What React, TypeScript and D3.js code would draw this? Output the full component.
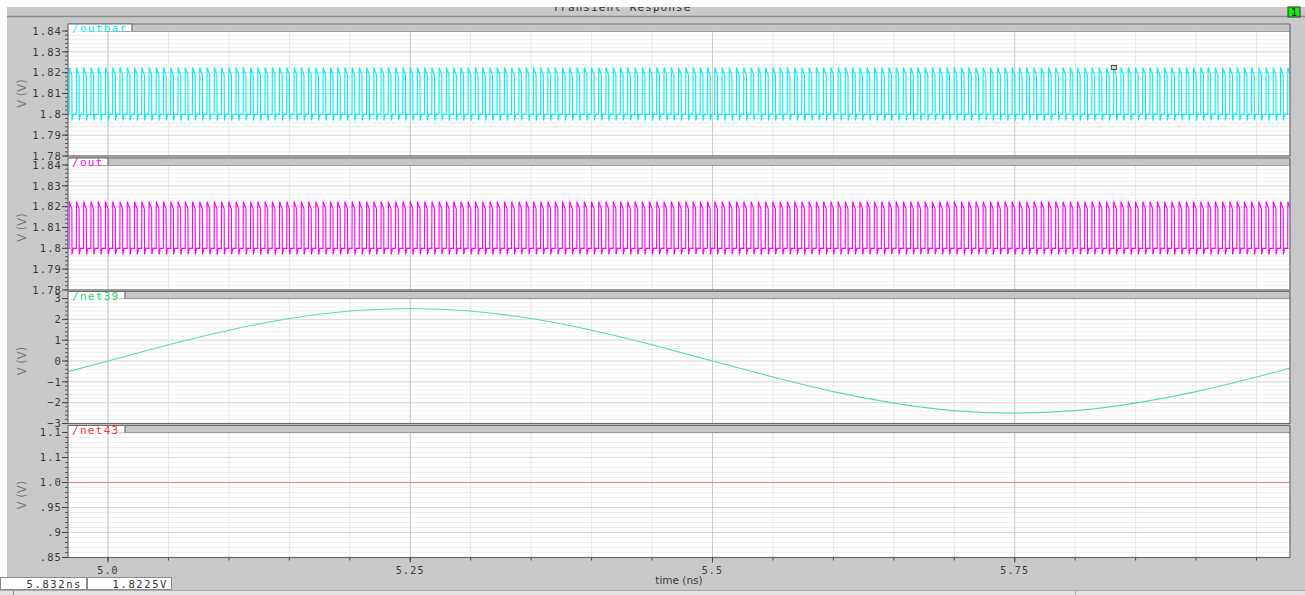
import React from "react";
import * as d3 from "d3";

// ---------- data ----------
const timeDomain: [number, number] = [4.9669, 5.9777];
const timeTicks = [5.0, 5.25, 5.5, 5.75];
const timeTickLabels = ["5.0", "5.25", "5.5", "5.75"];
const timeMinorStep = 0.05;

// one period of the differential outputs (phase within period -> volts)
const clockPeriod = 0.006; // ns
const clockFirstEdge = 4.9678; // ns
const clockShapePhase = [0, 0.02, 0.1, 0.38, 0.4, 0.58];
const outbarShape = [1.8, 1.8225, 1.8215, 1.819, 1.797, 1.8];
const outShape = [1.8, 1.8225, 1.8215, 1.819, 1.797, 1.8];

const net39Times = [4.95, 5.0, 5.05, 5.1, 5.15, 5.2, 5.25, 5.3, 5.35, 5.4, 5.45, 5.5, 5.55, 5.6, 5.65, 5.7, 5.75, 5.8, 5.85, 5.9, 5.95, 6.0];
const net39Values = [-0.77, 0, 0.78, 1.48, 2.04, 2.4, 2.52, 2.4, 2.04, 1.48, 0.78, 0, -0.77, -1.47, -2.02, -2.38, -2.5, -2.38, -2.02, -1.47, -0.77, 0];

const net43Times = [4.9669, 5.9777];
const net43Values = [1.0, 1.0];

const outbarTicks = [1.78, 1.79, 1.8, 1.81, 1.82, 1.83, 1.84];
const outbarTickLabels = ["1.78", "1.79", "1.8", "1.81", "1.82", "1.83", "1.84"];
const outTicks = [1.78, 1.79, 1.8, 1.81, 1.82, 1.83, 1.84];
const outTickLabels = ["1.78", "1.79", "1.8", "1.81", "1.82", "1.83", "1.84"];
const net39Ticks = [-3, -2, -1, 0, 1, 2, 3];
const net39TickLabels = ["\u22123", "\u22122", "\u22121", "0", "1", "2", "3"];
const net43Ticks = [0.85, 0.9, 0.95, 1.0, 1.05, 1.1];
const net43TickLabels = [".85", ".9", ".95", "1.0", "1.1", "1.1"];

const signalNames = ["/outbar", "/out", "/net39", "/net43"];
const lineColors = ["#00f0f0", "#ff00ff", "#5ade9c", "#ff7a7a"];
const nameColors = ["#00e8e8", "#ff00ff", "#2ccf78", "#ff3030"];

const cursorTime = 5.832;
const cursorValue = 1.8225;
const cursorLabels = ["5.832ns", "1.8225V"];

// ---------- layout ----------
const PLOT_L = 68;
const PLOT_R = 1290;
const PANEL_H = 125;
const panelTops = [31, 165, 298.5, 432.5];
const tabWidths = [64, 40, 57, 57];
const MONO = "'DejaVu Sans Mono', monospace";
const SANS = "'DejaVu Sans', sans-serif";
const BG = "#c9c9c9";

function clockSeries(shape: number[]): [number, number][] {
  const pts: [number, number][] = [];
  const n = Math.ceil((timeDomain[1] - clockFirstEdge) / clockPeriod) + 2;
  for (let k = -1; k < n; k++) {
    const t0 = clockFirstEdge + k * clockPeriod;
    clockShapePhase.forEach((p, i) => pts.push([t0 + p * clockPeriod, shape[i]]));
  }
  return pts;
}

const x = d3.scaleLinear().domain(timeDomain).range([PLOT_L, PLOT_R]);
const minorTimes = d3.range(5.0, timeDomain[1], timeMinorStep).filter((t) => t <= timeDomain[1]);

type PanelCfg = {
  name: string;
  ticks: number[];
  labels: string[];
  data: [number, number][];
  color: string;
  nameColor: string;
  curve: d3.CurveFactory;
};

const panels: PanelCfg[] = [
  { name: signalNames[0], ticks: outbarTicks, labels: outbarTickLabels, data: clockSeries(outbarShape), color: lineColors[0], nameColor: nameColors[0], curve: d3.curveLinear },
  { name: signalNames[1], ticks: outTicks, labels: outTickLabels, data: clockSeries(outShape), color: lineColors[1], nameColor: nameColors[1], curve: d3.curveLinear },
  { name: signalNames[2], ticks: net39Ticks, labels: net39TickLabels, data: net39Times.map((t, i) => [t, net39Values[i]] as [number, number]), color: lineColors[2], nameColor: nameColors[2], curve: d3.curveNatural },
  { name: signalNames[3], ticks: net43Ticks, labels: net43TickLabels, data: net43Times.map((t, i) => [t, net43Values[i]] as [number, number]), color: lineColors[3], nameColor: nameColors[3], curve: d3.curveLinear },
];

function Panel({ cfg, idx }: { cfg: PanelCfg; idx: number }) {
  const top = panelTops[idx];
  const bottom = top + PANEL_H;
  const dom: [number, number] = [cfg.ticks[0], cfg.ticks[cfg.ticks.length - 1]];
  const y = d3.scaleLinear().domain(dom).range([bottom, top]);
  const step = (cfg.ticks[1] - cfg.ticks[0]) / 5;
  const nMinor = Math.round((dom[1] - dom[0]) / step);
  const minorY = d3.range(0, nMinor + 1).map((i) => dom[0] + i * step);
  const line = d3
    .line<[number, number]>()
    .x((d) => x(d[0]))
    .y((d) => y(d[1]))
    .curve(cfg.curve);
  const clipId = `clip${idx}`;
  return (
    <g>
      <defs>
        <clipPath id={clipId}>
          <rect x={PLOT_L} y={top} width={PLOT_R - PLOT_L} height={PANEL_H} />
        </clipPath>
      </defs>
      <rect x={PLOT_L} y={top} width={PLOT_R - PLOT_L} height={PANEL_H} fill="#ffffff" />
      {minorY.map((v, i) => (
        <line key={"hm" + i} x1={PLOT_L} x2={PLOT_R} y1={y(v)} y2={y(v)} stroke="#efefef" strokeWidth={1} />
      ))}
      {minorTimes.map((t, i) => (
        <line key={"vm" + i} x1={x(t)} x2={x(t)} y1={top} y2={bottom} stroke="#e6e6e6" strokeWidth={1} />
      ))}
      {cfg.ticks.map((v, i) => (
        <line key={"hM" + i} x1={PLOT_L} x2={PLOT_R} y1={y(v)} y2={y(v)} stroke="#dadada" strokeWidth={1} />
      ))}
      {timeTicks.map((t, i) => (
        <line key={"vM" + i} x1={x(t)} x2={x(t)} y1={top} y2={bottom} stroke="#cacaca" strokeWidth={1} />
      ))}
      <path d={line(cfg.data) || ""} fill="none" stroke={cfg.color} strokeWidth={1.1} clipPath={`url(#${clipId})`} />
      {idx === 0 && (
        <rect x={x(cursorTime) - 2.5} y={y(cursorValue) - 2} width={5} height={4} fill="#d8d8d8" stroke="#444" strokeWidth={1} />
      )}
      <rect x={PLOT_L} y={top} width={PLOT_R - PLOT_L} height={PANEL_H} fill="none" stroke="#6c6c6c" strokeWidth={1.2} />
      {minorY.map((v, i) => (
        <line key={"tm" + i} x1={PLOT_L - 3} x2={PLOT_L} y1={y(v)} y2={y(v)} stroke="#555" strokeWidth={1} />
      ))}
      {cfg.ticks.map((v, i) => (
        <g key={"t" + i}>
          <line x1={PLOT_L - 6} x2={PLOT_L} y1={y(v)} y2={y(v)} stroke="#444" strokeWidth={1} />
          <text x={PLOT_L - 6} y={y(v)} dy="0.36em" textAnchor="end" fontFamily={MONO} fontSize={10.5} letterSpacing={1.1} fill="#3a3a3a">
            {cfg.labels[i]}
          </text>
        </g>
      ))}
      <text transform={`translate(26,${(top + bottom) / 2}) rotate(-90)`} textAnchor="middle" fontFamily={SANS} fontSize={11.5} fill="#7a7a7a">
        V (V)
      </text>
      {/* header strip */}
      <rect x={PLOT_L} y={top - 7} width={PLOT_R - PLOT_L} height={7} fill="#c6c6c6" />
      <line x1={PLOT_L} x2={PLOT_R} y1={top - 7} y2={top - 7} stroke="#6c6c6c" strokeWidth={1.2} />
      <line x1={PLOT_R} x2={PLOT_R} y1={top - 7} y2={top} stroke="#6c6c6c" strokeWidth={1.2} />
      <path d={`M${PLOT_L},${top + 1}V${top - 7}H${PLOT_L + tabWidths[idx]}V${top}`} fill="#ffffff" stroke="#6c6c6c" strokeWidth={1.2} />
      <text x={PLOT_L + 4} y={top + 1} fontFamily={MONO} fontSize={11} letterSpacing={1.3} fill={cfg.nameColor}>
        {cfg.name}
      </text>
    </g>
  );
}

export default function App() {
  const axisY = panelTops[3] + PANEL_H;
  return (
    <svg width={1305} height={595} style={{ position: "fixed", left: 0, top: 0 }}>
      <rect x={0} y={0} width={1305} height={595} fill={BG} />
      {/* title */}
      <text x={622} y={11} textAnchor="middle" fontFamily={MONO} fontSize={11} letterSpacing={1.1} fill="#333">
        Transient Response
      </text>
      <rect x={0} y={0} width={1305} height={7} fill="#ffffff" />
      <rect x={0} y={0} width={7} height={577} fill="#ffffff" />
      <line x1={7} x2={1305} y1={16.5} y2={16.5} stroke="#8a8a8a" strokeWidth={1.5} />
      <rect x={1288} y={7} width={12} height={10} fill="#10f010" stroke="#333" strokeWidth={1} />
      <text x={1294} y={15.5} textAnchor="middle" fontFamily={MONO} fontSize={10} fill="#111">
        1
      </text>

      {panels.map((p, i) => (
        <Panel key={i} cfg={p} idx={i} />
      ))}

      {/* time axis */}
      {minorTimes.map((t, i) => (
        <line key={"xm" + i} x1={x(t)} x2={x(t)} y1={axisY} y2={axisY + 3} stroke="#444" strokeWidth={1} />
      ))}
      {timeTicks.map((t, i) => (
        <g key={"xt" + i}>
          <line x1={x(t)} x2={x(t)} y1={axisY} y2={axisY + 5} stroke="#444" strokeWidth={1} />
          <text x={x(t)} y={574} textAnchor="middle" fontFamily={MONO} fontSize={10} letterSpacing={1.2} fill="#3a3a3a">
            {timeTickLabels[i]}
          </text>
        </g>
      ))}
      <text x={(PLOT_L + PLOT_R) / 2} y={584} textAnchor="middle" fontFamily={SANS} fontSize={10.5} fill="#3a3a3a">
        time (ns)
      </text>

      {/* status bar */}
      <rect x={0.5} y={577.5} width={86} height={12} fill="#ffffff" stroke="#8a8a8a" strokeWidth={1} />
      <rect x={87.5} y={577.5} width={84} height={12} fill="#ffffff" stroke="#8a8a8a" strokeWidth={1} />
      <text x={82} y={587.5} textAnchor="end" fontFamily={MONO} fontSize={10.5} letterSpacing={1.6} fill="#333">
        {cursorLabels[0]}
      </text>
      <text x={168} y={587.5} textAnchor="end" fontFamily={MONO} fontSize={10.5} letterSpacing={1.6} fill="#333">
        {cursorLabels[1]}
      </text>
      <rect x={0} y={590.5} width={1305} height={5} fill="#e2e2e2" />
      <line x1={0} x2={1305} y1={590.5} y2={590.5} stroke="#a8a8a8" strokeWidth={1} />
      <line x1={13.5} x2={13.5} y1={591} y2={595} stroke="#888" strokeWidth={1} />
      <line x1={1075.5} x2={1075.5} y1={591} y2={595} stroke="#aaa" strokeWidth={1} />
    </svg>
  );
}
